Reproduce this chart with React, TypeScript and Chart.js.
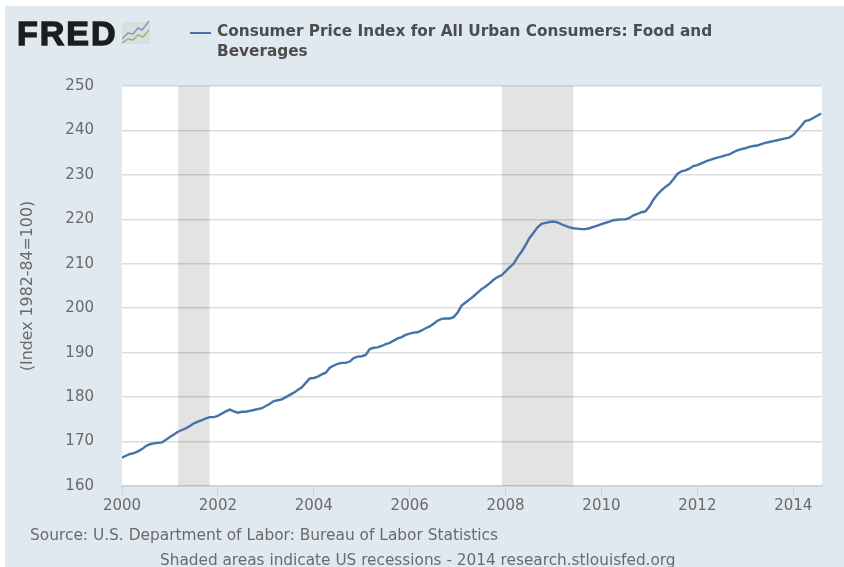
import React, { useEffect, useRef } from "react";
import { Chart, registerables } from "chart.js";

Chart.register(...registerables);

const seriesName = "Consumer Price Index for All Urban Consumers: Food and Beverages";
const startYear = 2000;
const cpi2000 = [166.4,166.8,167.2,167.4,167.8,168.3,169.0,169.4,169.6,169.7,169.8,170.4];
const cpi2001 = [171.0,171.6,172.2,172.6,173.0,173.5,174.1,174.5,174.8,175.2,175.5,175.5];
const cpi2002 = [175.8,176.3,176.8,177.2,176.8,176.5,176.7,176.7,176.9,177.1,177.3,177.5];
const cpi2003 = [178.0,178.5,179.1,179.3,179.5,180.0,180.5,181.0,181.6,182.2,183.2,184.2];
const cpi2004 = [184.3,184.6,185.1,185.5,186.6,187.1,187.5,187.7,187.7,188.0,188.8,189.1];
const cpi2005 = [189.2,189.5,190.8,191.1,191.2,191.5,191.9,192.2,192.7,193.2,193.5,194.0];
const cpi2006 = [194.3,194.5,194.6,195.0,195.5,195.9,196.5,197.2,197.6,197.7,197.7,198.0];
const cpi2007 = [199.0,200.6,201.3,202.0,202.7,203.5,204.3,204.9,205.6,206.4,207.0,207.4];
const cpi2008 = [208.3,209.2,210.0,211.5,212.7,214.2,215.8,217.0,218.2,219.0,219.2,219.4];
const cpi2009 = [219.5,219.3,218.9,218.5,218.2,218.0,217.9,217.8,217.8,218.0,218.3,218.6];
const cpi2010 = [218.9,219.2,219.5,219.8,219.9,220.0,220.0,220.3,220.9,221.2,221.6,221.8];
const cpi2011 = [222.9,224.4,225.6,226.5,227.3,227.9,229.0,230.2,230.8,231.0,231.4,232.0];
const cpi2012 = [232.2,232.6,233.0,233.3,233.6,233.9,234.1,234.4,234.6,235.1,235.5,235.8];
const cpi2013 = [236.0,236.3,236.5,236.6,236.9,237.2,237.4,237.6,237.8,238.0,238.2,238.4];
const cpi2014 = [239.0,240.0,241.0,242.1,242.3,242.8,243.3,243.8];
const allValues = [
  ...cpi2000, ...cpi2001, ...cpi2002, ...cpi2003, ...cpi2004, ...cpi2005, ...cpi2006, ...cpi2007,
  ...cpi2008, ...cpi2009, ...cpi2010, ...cpi2011, ...cpi2012, ...cpi2013, ...cpi2014,
];
const recessions = [
  [2001.17, 2001.83],
  [2007.92, 2009.42],
];
const yMin = 160;
const yMax = 250;
const xMin = 2000;
const xMax = 2014.6;

const PANEL = "#e0e8f0";
const AXIS = "#c8d5e3";
const TEXT = "#6a6a6a";
const SANS = "'DejaVu Sans', sans-serif";

export default function App() {
  const ref = useRef<HTMLCanvasElement | null>(null);
  useEffect(() => {
    document.body.style.margin = "0";
    document.body.style.background = "#ffffff";
    const whitePlot = {
      id: "whitePlot",
      beforeDraw(c: any) {
        const a = c.chartArea;
        c.ctx.save();
        c.ctx.fillStyle = "#ffffff";
        c.ctx.fillRect(a.left, a.top, a.right - a.left, a.bottom - a.top);
        c.ctx.restore();
      },
    };
    const chart = new Chart(ref.current!, {
      type: "line",
      data: {
        datasets: [
          {
            label: seriesName,
            data: allValues.map((v, i) => ({ x: startYear + i / 12, y: v })),
            borderColor: "#4572A7",
            borderWidth: 2.4,
            pointRadius: 0,
            tension: 0,
            fill: false,
            order: 0,
          },
          ...recessions.map(([a, b], i) => ({
            label: `Recession ${i + 1}`,
            data: [
              { x: a, y: yMax },
              { x: b, y: yMax },
            ],
            borderWidth: 0,
            borderColor: "rgba(0,0,0,0)",
            backgroundColor: "rgba(0,0,0,0.11)",
            pointRadius: 0,
            fill: "start",
            order: 1,
          })),
        ],
      },
      options: {
        animation: false,
        responsive: false,
        maintainAspectRatio: false,
        layout: { padding: { top: 80, right: 22, left: 0, bottom: 0 } },
        plugins: { legend: { display: false }, tooltip: { enabled: false }, title: { display: false } },
        scales: {
          x: {
            type: "linear",
            min: xMin,
            max: xMax,
            afterFit(s: any) {
              s.height = 81;
            },
            border: { color: AXIS, width: 2 },
            grid: { drawOnChartArea: false, drawTicks: true, tickLength: 10, color: AXIS },
            ticks: {
              stepSize: 2,
              includeBounds: false,
              maxRotation: 0,
              padding: 1,
              color: TEXT,
              font: { family: SANS, size: 15 },
              callback: (v: any) => String(v),
            },
          },
          y: {
            min: yMin,
            max: yMax,
            afterFit(s: any) {
              s.width = 117;
            },
            border: { display: false },
            grid: {
              drawTicks: false,
              lineWidth: 1.5,
              color: (c: any) => (c.tick && (c.tick.value === yMax || c.tick.value === yMin) ? AXIS : "#dcdcdc"),
            },
            title: {
              display: true,
              text: "(Index 1982-84=100)",
              color: TEXT,
              font: { family: SANS, size: 15.8, weight: "normal" },
              padding: { top: 13, bottom: 0 },
            },
            ticks: {
              stepSize: 10,
              padding: 28,
              color: TEXT,
              font: { family: SANS, size: 15 },
            },
          },
        },
      },
      plugins: [whitePlot],
    } as any);
    return () => chart.destroy();
  }, []);

  const abs: React.CSSProperties = { position: "absolute", whiteSpace: "nowrap" };
  return (
    <div style={{ position: "fixed", left: 0, top: 0, width: 844, height: 567, overflow: "hidden", background: "#fff", filter: "blur(0.7px)" }}>
      <div style={{ position: "absolute", left: 5, top: 6, width: 839, height: 561, background: PANEL }}>
        <canvas ref={ref} width={839} height={561} style={{ display: "block" }} />
      </div>
      <div style={{ ...abs, left: 17, top: 12, fontFamily: "'Liberation Sans', sans-serif", fontWeight: 700, fontSize: 34, lineHeight: "42px", color: "#1d1d1d", WebkitTextStroke: "1.4px #1d1d1d", letterSpacing: 2 }}>FRED</div>
      <svg style={{ position: "absolute", left: 122, top: 20 }} width={28} height={25} viewBox="0 0 28 25">
        <rect x="0" y="2" width="28" height="22" fill="#d9dedf" />
        <polyline points="0,19 6,13 11,14 16,8 20,10 27,1" fill="none" stroke="#7d9cbc" strokeWidth="1.5" />
        <polyline points="0,23 6,19 11,20 16,15 21,17 27,10" fill="none" stroke="#9db574" strokeWidth="1.5" />
      </svg>
      <div style={{ position: "absolute", left: 190, top: 32, width: 21, height: 2, background: "#4572A7" }} />
      <div style={{ ...abs, left: 217, top: 21, fontFamily: SANS, fontWeight: 700, fontSize: 15.3, lineHeight: "20px", color: "#4d4d4d", whiteSpace: "normal", width: 520 }}>{seriesName}</div>
      <div style={{ ...abs, left: 30, top: 525, fontFamily: SANS, fontSize: 15.4, lineHeight: "20px", color: TEXT }}>Source: U.S. Department of Labor: Bureau of Labor Statistics</div>
      <div style={{ ...abs, left: 160, top: 550, fontFamily: SANS, fontSize: 15.3, lineHeight: "20px", color: TEXT }}>Shaded areas indicate US recessions - 2014 research.stlouisfed.org</div>
    </div>
  );
}
